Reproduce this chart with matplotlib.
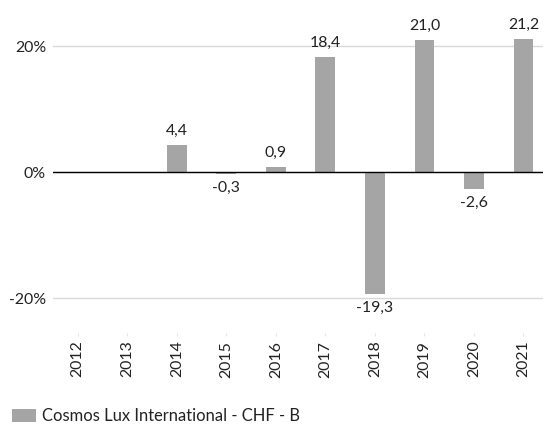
import numpy as np
import matplotlib
matplotlib.use("Agg")
import matplotlib.pyplot as plt

years = ["2012", "2013", "2014", "2015", "2016", "2017", "2018", "2019", "2020", "2021"]
values = [np.nan, np.nan, 4.4, -0.3, 0.9, 18.4, -19.3, 21.0, -2.6, 21.2]
series_name = "Cosmos Lux International - CHF - B"
yticks = [-20, 0, 20]
ytick_labels = ["-20%", "0%", "20%"]

plt.rcParams['font.family'] = ['Lato', 'DejaVu Sans']
FS = 11.4
LFS = 11.9
TXT = '#222222'
BAR = '#a5a5a5'

W, H = 543, 426
fig = plt.figure(figsize=(W / 100, H / 100), dpi=100)
ax = fig.add_axes([53 / W, 1 - 333 / H, (W - 53) / W, 333 / H])

x = np.arange(len(years))
bars = ax.bar(x, values, width=0.4, color=BAR, label=series_name, zorder=3)

for xi, v in zip(x, values):
    if np.isnan(v):
        continue
    lab = f"{v:.1f}".replace('.', ',')
    if v >= 0:
        ax.annotate(lab, (xi, v), xytext=(0, 5), textcoords='offset points',
                    ha='center', va='bottom', fontsize=FS, color=TXT)
    else:
        ax.annotate(lab, (xi, v), xytext=(0, -5), textcoords='offset points',
                    ha='center', va='top', fontsize=FS, color=TXT)

ax.set_xlim(-0.5, 9.394)
ax.set_ylim(-25.48, 27.38)
ax.set_yticks(yticks)
ax.set_yticklabels(ytick_labels)
ax.set_xticks(x)
ax.set_xticklabels(years, rotation=90)

for s in ax.spines.values():
    s.set_visible(False)
ax.grid(axis='y', color='#d9d9d9', linewidth=1, zorder=0)
ax.axhline(0, color='black', linewidth=1, zorder=4)
ax.tick_params(axis='y', length=0, pad=5, labelsize=FS, labelcolor=TXT)
ax.tick_params(axis='x', length=2.5, width=0.8, color='#e6e6e6', pad=3,
               labelsize=FS, labelcolor=TXT)

hl = 24 / (LFS * 100 / 72)
hh = 14 / (LFS * 100 / 72)
fig.legend(handles=[bars], labels=[series_name], loc='center left',
           bbox_to_anchor=(12 / W, 1 - 416 / H), frameon=False, fontsize=LFS,
           handlelength=hl, handleheight=hh, handletextpad=0.36,
           borderpad=0, borderaxespad=0, labelcolor=TXT)

fig.savefig("out.png", dpi=100)
